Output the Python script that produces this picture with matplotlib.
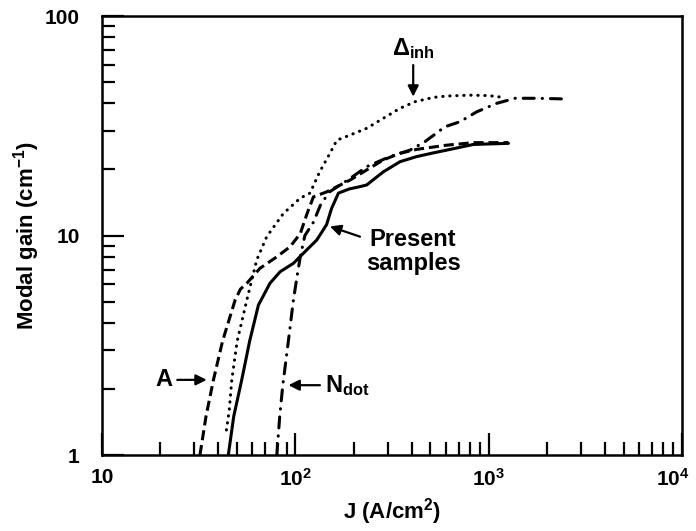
import matplotlib
matplotlib.use('Agg')
import matplotlib.pyplot as plt
import matplotlib.transforms as mtrans
from matplotlib.ticker import LogLocator, NullFormatter, FixedLocator, FixedFormatter

plt.rcParams['font.family'] = ['Liberation Sans', 'DejaVu Sans']
plt.rcParams['font.weight'] = 'bold'
plt.rcParams['mathtext.fontset'] = 'custom'
plt.rcParams['mathtext.rm'] = 'Liberation Sans:bold'
plt.rcParams['mathtext.it'] = 'Liberation Sans:bold'
plt.rcParams['mathtext.bf'] = 'Liberation Sans:bold'
plt.rcParams['mathtext.default'] = 'rm'

# present samples (solid)
j_present = [45, 48, 52.8, 58, 64.4, 73.9, 83.4, 97.7, 110, 129, 145, 154, 167, 190, 216, 234, 260, 285, 348, 425, 518, 607, 834, 1265]
g_present = [1.0, 1.5, 2.2, 3.3, 4.82, 6.06, 6.84, 7.47, 8.3, 9.54, 11.2, 13.3, 15.6, 16.3, 16.7, 17.0, 18.3, 19.5, 21.7, 22.9, 23.8, 24.5, 26.0, 26.3]

# A (dashed)
j_a = [32.1, 34.5, 37.7, 42, 48.8, 52, 56.1, 65.6, 80.2, 93.9, 106, 115, 124, 145, 192, 234, 285, 348, 425, 607, 834, 1265]
g_a = [1.0, 1.5, 2.2, 3.3, 5.08, 5.7, 6.06, 7.09, 8.0, 8.89, 10.2, 12.6, 15.0, 15.8, 17.9, 19.9, 22.1, 23.7, 24.7, 25.8, 26.5, 26.5]

# delta_inh (dotted)
j_inh = [44, 45.5, 46.9, 50, 56.1, 63.1, 71.1, 86.7, 106, 119, 134, 151, 164, 192, 234, 285, 348, 416, 518, 607, 800, 1000, 1216]
g_inh = [1.3, 1.6, 2.2, 3.3, 5.08, 7.73, 9.88, 12.6, 14.8, 15.6, 19.6, 23.7, 27.2, 28.7, 30.8, 34.2, 38.0, 40.7, 42.6, 43.2, 43.6, 43.4, 42.5]

# N_dot (dash-dot)
j_ndot = [80.2, 83, 86.1, 92, 97.7, 102, 106, 112, 124, 135, 150, 192, 234, 309, 392, 469, 594, 711, 867, 1099, 1370, 1774, 2480]
g_ndot = [1.0, 1.5, 2.08, 3.3, 5.08, 6.5, 8.0, 10.0, 11.5, 13.8, 15.8, 18.2, 20.6, 22.9, 24.5, 26.8, 31.3, 33.0, 36.6, 40.0, 42.2, 42.2, 41.9]

xticks = [10, 100, 1000, 10000]
xlabels = ['10', '$10^2$', '$10^3$', '$10^4$']
yticks = [1, 10, 100]
ylabels = ['1', '10', '100']

fig = plt.figure(figsize=(6.96, 5.31), dpi=100)
ax = fig.add_axes([0.1466, 0.1431, 0.8333, 0.8267])

lw = 2.2
ax.plot(j_present, g_present, color='black', lw=lw, solid_capstyle='round')
ax.plot(j_a, g_a, color='black', lw=lw, linestyle=(0, (3.3, 1.6)))
ax.plot(j_inh, g_inh, color='black', lw=lw, linestyle=(0, (0.1, 2.2)), dash_capstyle='round')
ax.plot(j_ndot, g_ndot, color='black', lw=lw, linestyle=(0, (3.6, 2.6, 0.1, 2.6)), dash_capstyle='round')

ax.set_xscale('log')
ax.set_yscale('log')
ax.set_xlim(10, 10000)
ax.set_ylim(1, 100)

ax.xaxis.set_major_locator(FixedLocator(xticks))
ax.xaxis.set_major_formatter(FixedFormatter(xlabels))
ax.yaxis.set_major_locator(FixedLocator(yticks))
ax.yaxis.set_major_formatter(FixedFormatter(ylabels))
ax.xaxis.set_minor_locator(LogLocator(base=10, subs=range(2, 10)))
ax.yaxis.set_minor_locator(LogLocator(base=10, subs=range(2, 10)))
ax.xaxis.set_minor_formatter(NullFormatter())
ax.yaxis.set_minor_formatter(NullFormatter())

ax.tick_params(which='both', direction='in', top=False, right=False, width=1.6, labelsize=15)
ax.tick_params(which='major', length=16)
ax.tick_params(which='minor', length=9.5)
ax.tick_params(axis='x', which='major', pad=9)
ax.tick_params(axis='y', which='major', pad=16)
for s in ax.spines.values():
    s.set_linewidth(1.8)

# keep the last x label inside the figure
last = ax.xaxis.get_major_ticks()[-1].label1
last.set_transform(last.get_transform() + mtrans.ScaledTranslation(-7 / 72, 0, fig.dpi_scale_trans))

ax.set_xlabel('J (A/cm$^2$)', fontsize=16, fontweight='bold', labelpad=5)
ax.set_ylabel('Modal gain (cm$^{-1}$)', fontsize=16, fontweight='bold', labelpad=2)

arrow = dict(arrowstyle='-|>', color='black', lw=1.6, mutation_scale=16, shrinkA=0, shrinkB=0)
ax.annotate('', xy=(407, 42.9), xytext=(407, 59.8), arrowprops=arrow)
ax.text(407, 71, r'$\Delta_{inh}$', fontsize=17, ha='center', va='center')

ax.annotate('', xy=(151, 11.0), xytext=(216, 9.88), arrowprops=arrow)
ax.text(406, 8.45, 'Present\nsamples', fontsize=17, fontweight='bold', ha='center', va='center', linespacing=1.05)

ax.annotate('', xy=(34.8, 2.2), xytext=(24.5, 2.2), arrowprops=arrow)
ax.text(21.0, 2.2, 'A', fontsize=17, fontweight='bold', ha='center', va='center')

ax.annotate('', xy=(92.1, 2.08), xytext=(134, 2.08), arrowprops=arrow)
ax.text(143, 2.08, 'N$_{dot}$', fontsize=17, fontweight='bold', ha='left', va='center')

fig.savefig('out.png', dpi=100)
